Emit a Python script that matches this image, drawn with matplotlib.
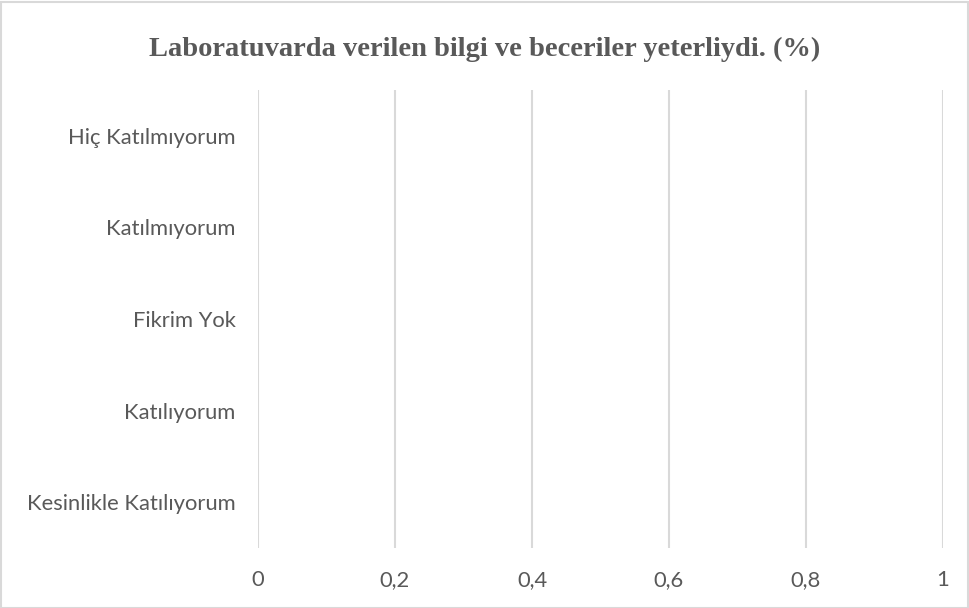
import matplotlib
matplotlib.use("Agg")
import matplotlib.pyplot as plt
from matplotlib.ticker import FuncFormatter, FixedLocator
from matplotlib.patches import Rectangle

categories = ["Hiç Katılmıyorum", "Katılmıyorum", "Fikrim Yok", "Katılıyorum", "Kesinlikle Katılıyorum"]
values = [0, 0, 0, 0, 0]
xticks = [0, 0.2, 0.4, 0.6, 0.8, 1.0]
title = "Laboratuvarda verilen bilgi ve beceriler yeterliydi. (%)"

W, H = 970, 608
fig = plt.figure(figsize=(W / 100, H / 100), dpi=100)
ax = fig.add_axes([258 / W, 1 - 548 / H, (943 - 258) / W, (548 - 90) / H])

y = list(range(len(categories)))
ax.barh(y, values, height=0.6, color="#4472C4")
ax.set_ylim(len(categories) - 0.5, -0.5)
ax.set_yticks(y)
ax.set_yticklabels(categories)
ax.set_xlim(0, 1)
ax.xaxis.set_major_locator(FixedLocator(xticks))
ax.xaxis.set_major_formatter(FuncFormatter(lambda v, p: ("%g" % round(v, 2)).replace(".", ",")))

ax.grid(axis="x", color="#d9d9d9", linewidth=1.5)
ax.set_axisbelow(True)
for s in ax.spines.values():
    s.set_visible(False)
ax.tick_params(axis="both", length=0, labelsize=15.8, labelcolor="#595959", colors="#595959")
for lbl in ax.get_xticklabels() + ax.get_yticklabels():
    lbl.set_fontfamily("Lato")
ax.tick_params(axis="x", pad=16)
ax.tick_params(axis="y", pad=16)

fig.text(0.5, 1 - 49 / H, title, ha="center", va="center", fontsize=20.5, fontweight="bold",
         family="Liberation Serif", color="#595959")

fig.patches.append(Rectangle((0.5 / W, 0.5 / H), (W - 2) / W, (H - 2) / H, transform=fig.transFigure,
                             fill=False, edgecolor="#d9d9d9", linewidth=1.5))

fig.savefig("out.png", dpi=100)
